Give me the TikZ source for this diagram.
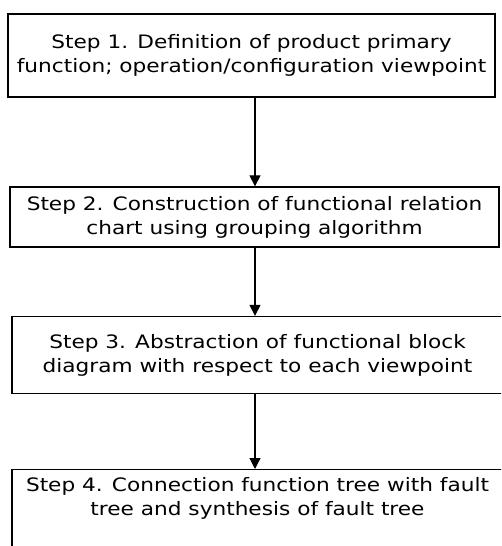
\documentclass[tikz,border=0pt]{standalone}
\usepackage{fontspec}
\setmainfont{DejaVu Sans}[FakeStretch=1.17]
\usetikzlibrary{arrows.meta}
\begin{document}
\begin{tikzpicture}[x=1pt,y=-1pt,
  stepbox/.style={draw=black,line width=1.3pt,fill=white,inner sep=0pt,
    align=center,font=\fontsize{18.5}{24}\selectfont},
  flow/.style={draw=black,line width=1.2pt,
    -{Triangle[length=11pt,width=11pt]}}]
\useasboundingbox (0,0) rectangle (501,546);
\clip (0,0) rectangle (501,546);
% process steps
\node[stepbox,minimum width=487pt,minimum height=83pt] (s1) at (251.5,55.5)
  {Step 1. Definition of product primary\\function; operation/configuration viewpoint};
\node[stepbox,minimum width=489pt,minimum height=60pt] (s2) at (254.5,217)
  {Step 2. Construction of functional relation\\chart using grouping algorithm};
\node[stepbox,minimum width=491pt,minimum height=77pt] (s3) at (257.5,355)
  {Step 3. Abstraction of functional block\\diagram with respect to each viewpoint};
\node[stepbox,minimum width=491pt,anchor=north,text depth=60pt] (s4) at (257.5,469)
  {\rule{0pt}{22pt}Step 4. Connection function tree with fault\\tree and synthesis of fault tree};
% connectors along a common vertical
\coordinate (ax) at (255,0);
\draw[flow] (s1.south -| ax) -- (s2.north -| ax);
\draw[flow] (s2.south -| ax) -- (s3.north -| ax);
\draw[flow] (s3.south -| ax) -- (s4.north -| ax);
\end{tikzpicture}
\end{document}
